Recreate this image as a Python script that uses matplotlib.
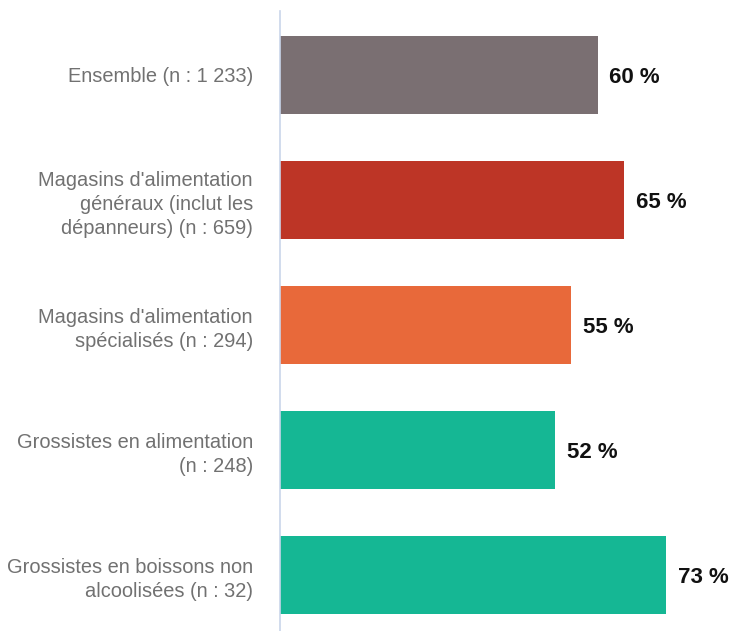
import matplotlib
matplotlib.use("Agg")
import matplotlib.pyplot as plt

categories = [
    "Ensemble (n : 1 233)",
    "Magasins d'alimentation\ngénéraux (inclut les\ndépanneurs) (n : 659)",
    "Magasins d'alimentation\nspécialisés (n : 294)",
    "Grossistes en alimentation\n(n : 248)",
    "Grossistes en boissons non\nalcoolisées (n : 32)",
]
values = [60, 65, 55, 52, 73]
colors = ["#7a6f72", "#bd3526", "#e8693a", "#15b794", "#15b794"]

plt.rcParams["font.family"] = ["Liberation Sans", "DejaVu Sans"]

fig = plt.figure(figsize=(7.33, 6.31), dpi=100)
ax = fig.add_axes([0.382, 0.0, 0.618, 0.983])

ypos = list(range(len(categories)))
ax.barh(ypos, values, height=0.62, color=colors)

for y, v in zip(ypos, values):
    ax.text(v + 2.2, y, f"{v} %", va="center_baseline", ha="left",
            fontsize=16, fontweight="bold", color="#111111")

ax.set_xlim(0, 85.6)
ax.set_ylim(4.448, -0.512)
ax.set_yticks(ypos)
ax.set_yticklabels(categories, fontsize=14.4, color="#717171",
                   ha="right", linespacing=1.32)
ax.tick_params(axis="y", length=0, pad=19.5)
ax.set_xticks([])

for side in ["top", "right", "bottom"]:
    ax.spines[side].set_visible(False)
ax.spines["left"].set_color("#c9d5ea")
ax.spines["left"].set_linewidth(1.2)

fig.savefig("out.png", dpi=100)
